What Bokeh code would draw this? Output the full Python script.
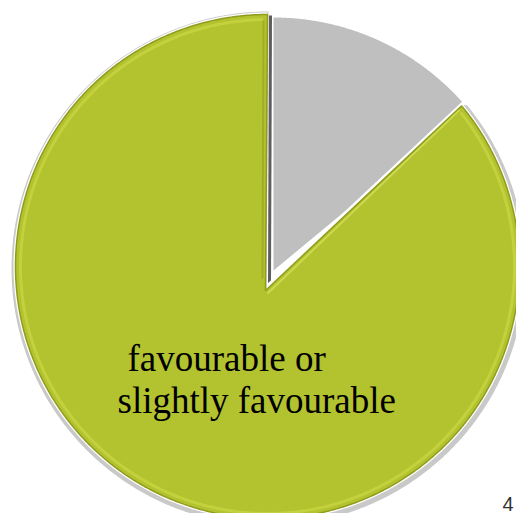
import numpy as np
from bokeh.plotting import figure
from bokeh.models import Range1d, ColumnDataSource
from bokeh.core.properties import value
from bokeh.embed import file_html
from bokeh.resources import INLINE

# ---- data ----
categories = ["favourable or slightly favourable", "other"]
shares = [86, 14]
colors = ["#b3c22f", "#bfbfbf"]
label_lines = ["favourable or", "slightly favourable"]
page_number = "4"

W, H = 516, 513
p = figure(width=W, height=H, output_backend="svg", toolbar_location=None,
           x_range=Range1d(0, W), y_range=Range1d(H, 0),
           min_border=0, background_fill_color="white", border_fill_color="white")
p.axis.visible = False
p.grid.visible = False
p.outline_line_color = None

total = float(sum(shares))
green_span = 360.0 * shares[0] / total
gray_span = 360.0 * shares[1] / total

# geometry (screen-like coordinates, y downwards)
cx, cy, r = 267.0, 266.0, 252.0          # outer circle of the pie
gcx, gcy = 273.0, 270.0                  # apex of the grey slice
apex = (265.0, 290.0)                    # apex of the (exploded) green slice


def arc(c_x, c_y, rad, a0, a1, n=240):
    t = np.radians(np.linspace(a0, a1, n))
    return c_x + rad * np.cos(t), c_y - rad * np.sin(t)


# grey slice: from 90 deg clockwise
g_start, g_end = 90.0 - gray_span, 90.0
ax_, ay_ = arc(gcx, gcy, r + 1, g_start, g_end)
p.patch(np.r_[gcx, ax_], np.r_[gcy, ay_], fill_color=colors[1], line_color=None)

# green slice: from 90 deg counter-clockwise
a0, a1 = 90.0, 90.0 + green_span
def green_poly(rad, dx=0.0, dy=0.0):
    x, y = arc(cx + dx, cy + dy, rad, a0, a1, 600)
    return np.r_[apex[0] + dx, x], np.r_[apex[1] + dy, y]

# soft outer shadow and white rim
sx, sy = green_poly(r + 5, 1.0, 2.0)
p.patch(sx, sy, fill_color="#c9c9c9", line_color=None)
wx, wy = green_poly(r + 2)
p.patch(wx, wy, fill_color="#ffffff", line_color=None)

# edge shadow along vertical cut, highlight along diagonal cut
top_x, top_y = cx + r * np.cos(np.radians(a0)), cy - r * np.sin(np.radians(a0))
end_x, end_y = cx + r * np.cos(np.radians(a1)), cy - r * np.sin(np.radians(a1))
p.segment(x0=[top_x + 3], y0=[top_y + 1], x1=[apex[0] + 4], y1=[apex[1] - 6],
          line_color="#5e5e5e", line_width=3)
p.segment(x0=[apex[0] + 3], y0=[apex[1] - 5], x1=[end_x + 2], y1=[end_y - 3],
          line_color="#ffffff", line_width=4)

# main green slice
mx, my = green_poly(r)
p.patch(mx, my, fill_color=colors[0], line_color="#8f9c1c", line_width=1.5)

# inner bevel highlight
ix, iy = arc(cx, cy, r - 5, a0 + 1, a1 - 1, 600)
p.line(ix, iy, line_color="#c4d33f", line_width=3, line_alpha=0.9)
p.segment(x0=[top_x - 4], y0=[top_y + 6], x1=[apex[0] - 3], y1=[apex[1] - 12],
          line_color="#97a51f", line_width=2, line_alpha=0.7)
p.segment(x0=[apex[0] + 2], y0=[apex[1] + 3], x1=[end_x - 2], y1=[end_y + 4],
          line_color="#cfdc52", line_width=2, line_alpha=0.9)

# label
src = ColumnDataSource(dict(x=[127, 117], y=[358, 400], t=label_lines))
p.text(x="x", y="y", text="t", source=src, text_font=value("Liberation Serif"),
       text_font_size="37px", text_color="#000000", text_baseline="alphabetic",
       text_align="left")

# page number (kept inside the frame)
p.text(x=[513], y=[503], text=[page_number], text_font=value("Liberation Sans"),
       text_font_size="20px", text_color="#333333", text_baseline="alphabetic",
       text_align="right")

open("out.html", "w").write(file_html(p, INLINE))
